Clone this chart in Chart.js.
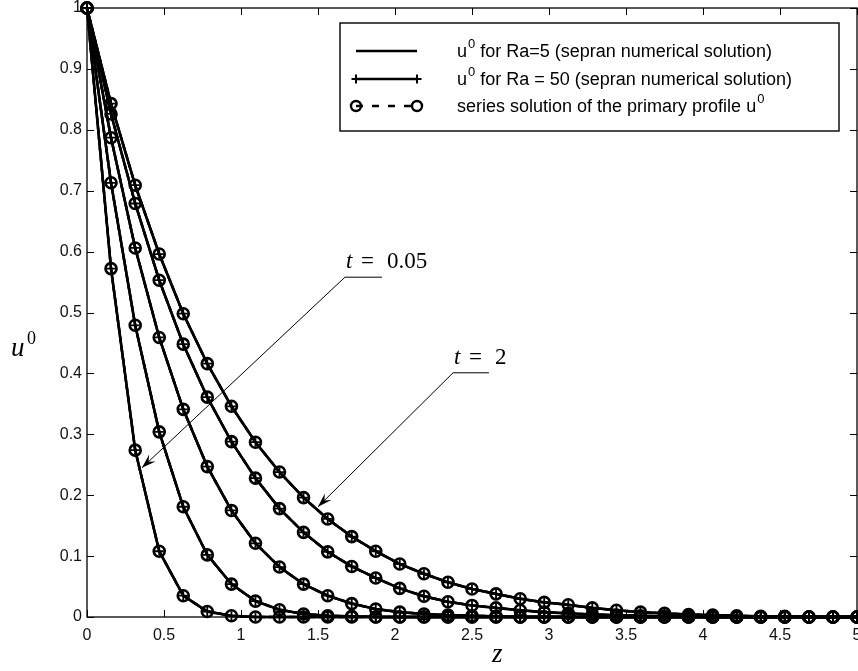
<!DOCTYPE html>
<html>
<head>
<meta charset="utf-8">
<script src="https://cdn.jsdelivr.net/npm/chart.js@4/dist/chart.umd.min.js"></script>
<style>
  body { margin: 0; background: #fff; }
  canvas { display: block; }
</style>
</head>
<body>
<canvas id="chart" width="858" height="671"></canvas>
<script>
// sample positions along z (marker positions)
const zValues = [0, 0.156, 0.313, 0.469, 0.625, 0.781, 0.938, 1.094, 1.25, 1.406, 1.563, 1.719, 1.875,
    2.031, 2.188, 2.344, 2.5, 2.656, 2.813, 2.969, 3.125, 3.281, 3.438, 3.594, 3.75, 3.906, 4.063,
    4.219, 4.375, 4.531, 4.688, 4.844, 5];

// u0 profiles, from t = 0.05 (steepest) to t = 2
const curveT005 = [1, 0.572, 0.274, 0.108, 0.035, 0.009, 0.002, 0, 0, 0, 0, 0, 0, 0, 0, 0, 0,
    0, 0, 0, 0, 0, 0, 0, 0, 0, 0, 0, 0, 0, 0, 0, 0];
const curveB = [1, 0.713, 0.479, 0.304, 0.181, 0.102, 0.054, 0.026, 0.012, 0.005, 0.002, 0.001, 0,
    0, 0, 0, 0, 0, 0, 0, 0, 0, 0, 0, 0, 0, 0, 0, 0, 0, 0, 0, 0];
const curveC = [1, 0.787, 0.606, 0.459, 0.341, 0.247, 0.175, 0.121, 0.082, 0.054, 0.035, 0.022, 0.013,
    0.008, 0.005, 0.003, 0.002, 0.001, 0, 0, 0, 0, 0, 0, 0, 0, 0, 0, 0, 0, 0, 0, 0];
const curveD = [1, 0.826, 0.679, 0.553, 0.448, 0.361, 0.288, 0.228, 0.178, 0.139, 0.107, 0.083, 0.064,
    0.047, 0.034, 0.025, 0.019, 0.015, 0.011, 0.008, 0.006, 0.004, 0.003, 0.002, 0.001, 0.001, 0,
    0, 0, 0, 0, 0, 0];
const curveT2 = [1, 0.843, 0.709, 0.596, 0.498, 0.416, 0.346, 0.287, 0.238, 0.196, 0.161, 0.132, 0.108,
    0.087, 0.071, 0.057, 0.046, 0.038, 0.030, 0.024, 0.020, 0.015, 0.011, 0.008, 0.006, 0.004, 0.003,
    0.002, 0.001, 0.001, 0, 0, 0];

const curves = [curveT005, curveB, curveC, curveD, curveT2];

const legendLabels = [
    ['u', '0', ' for Ra=5 (sepran numerical solution)'],
    ['u', '0', ' for Ra = 50 (sepran numerical solution)'],
    ['series solution of the primary profile u', '0', '']
];

const toPoints = vals => vals.map((v, i) => ({ x: zValues[i], y: v }));

const datasets = [];
curves.forEach(vals => {
    // series solution: dashed with open circles
    datasets.push({
        data: toPoints(vals), borderColor: '#000', borderWidth: 2.5, borderDash: [6, 4],
        pointStyle: 'circle', pointRadius: 5.5, pointBorderWidth: 2.6,
        pointBackgroundColor: 'rgba(0,0,0,0)', pointBorderColor: '#000', clip: false
    });
    // Ra = 5: plain solid line
    datasets.push({
        data: toPoints(vals), borderColor: '#000', borderWidth: 2.6,
        pointRadius: 0, clip: false
    });
    // Ra = 50: solid line with + markers
    datasets.push({
        data: toPoints(vals), borderColor: '#000', borderWidth: 2.4,
        pointStyle: 'cross', pointRadius: 4.5, pointBorderWidth: 1.8,
        pointBorderColor: '#000', clip: false
    });
});

const black = '#000';

const framePlugin = {
    id: 'frame',
    afterDraw(chart) {
        const { ctx, chartArea: a, scales } = chart;
        const x = scales.x, y = scales.y;
        ctx.save();
        ctx.strokeStyle = black;
        ctx.lineWidth = 1.3;
        ctx.strokeRect(a.left, a.top, a.right - a.left, a.bottom - a.top);
        ctx.lineWidth = 1;
        const len = 7;
        x.ticks.forEach(t => {
            const px = Math.round(x.getPixelForValue(t.value)) + 0.5;
            ctx.beginPath();
            ctx.moveTo(px, a.bottom); ctx.lineTo(px, a.bottom - len);
            ctx.moveTo(px, a.top); ctx.lineTo(px, a.top + len);
            ctx.stroke();
        });
        y.ticks.forEach(t => {
            const py = Math.round(y.getPixelForValue(t.value)) + 0.5;
            ctx.beginPath();
            ctx.moveTo(a.left, py); ctx.lineTo(a.left + len, py);
            ctx.moveTo(a.right, py); ctx.lineTo(a.right - len, py);
            ctx.stroke();
        });

        // axis titles
        ctx.fillStyle = black;
        ctx.textBaseline = 'alphabetic';
        ctx.font = 'italic 27px "Liberation Serif"';
        ctx.fillText('u', 11, 356);
        ctx.font = '18px "Liberation Serif"';
        ctx.fillText('0', 27, 344);
        ctx.font = 'italic 27px "Liberation Serif"';
        ctx.fillText('z', 492, 662);

        // legend box
        const bx = 340, by = 23, bw = 499, bh = 108;
        ctx.fillStyle = '#fff';
        ctx.fillRect(bx, by, bw, bh);
        ctx.lineWidth = 1.4;
        ctx.strokeRect(bx, by, bw, bh);
        const rows = [51, 79, 106];
        const s0 = 356, s1 = 417;
        ctx.lineWidth = 2.4;
        // row 1
        ctx.beginPath(); ctx.moveTo(s0, rows[0]); ctx.lineTo(s1, rows[0]); ctx.stroke();
        // row 2
        ctx.beginPath(); ctx.moveTo(s0, rows[1]); ctx.lineTo(s1, rows[1]); ctx.stroke();
        ctx.lineWidth = 2;
        [s0, s1].forEach(px => {
            ctx.beginPath();
            ctx.moveTo(px - 4.5, rows[1]); ctx.lineTo(px + 4.5, rows[1]);
            ctx.moveTo(px, rows[1] - 4.5); ctx.lineTo(px, rows[1] + 4.5);
            ctx.stroke();
        });
        // row 3
        ctx.lineWidth = 2.4;
        ctx.setLineDash([7, 9]);
        ctx.beginPath(); ctx.moveTo(s0, rows[2]); ctx.lineTo(s1, rows[2]); ctx.stroke();
        ctx.setLineDash([]);
        [s0, s1].forEach(px => {
            ctx.beginPath(); ctx.arc(px, rows[2], 5, 0, Math.PI * 2); ctx.stroke();
        });
        // legend text
        ctx.fillStyle = black;
        legendLabels.forEach((parts, i) => {
            let tx = 457;
            const base = rows[i] + 6;
            ctx.font = '18px "Liberation Sans", Arial';
            ctx.fillText(parts[0], tx, base);
            tx += ctx.measureText(parts[0]).width;
            ctx.font = '13px "Liberation Sans", Arial';
            ctx.fillText(parts[1], tx + 1, base - 9);
            tx += ctx.measureText(parts[1]).width + 1;
            ctx.font = '18px "Liberation Sans", Arial';
            ctx.fillText(parts[2], tx, base);
        });

        // annotations with leader arrows
        const drawNote = (tipZ, tipU, elbowZ, elbowU, lineEndZ, tParts) => {
            const tip = [x.getPixelForValue(tipZ), y.getPixelForValue(tipU)];
            const el = [x.getPixelForValue(elbowZ), y.getPixelForValue(elbowU)];
            const end = x.getPixelForValue(lineEndZ);
            ctx.strokeStyle = black;
            ctx.lineWidth = 1;
            ctx.beginPath();
            ctx.moveTo(end, el[1]); ctx.lineTo(el[0], el[1]); ctx.lineTo(tip[0], tip[1]);
            ctx.stroke();
            const ang = Math.atan2(tip[1] - el[1], tip[0] - el[0]);
            const L = 15, w = 0.32;
            ctx.beginPath();
            ctx.moveTo(tip[0], tip[1]);
            ctx.lineTo(tip[0] - L * Math.cos(ang - w), tip[1] - L * Math.sin(ang - w));
            ctx.lineTo(tip[0] - 0.6 * L * Math.cos(ang), tip[1] - 0.6 * L * Math.sin(ang));
            ctx.lineTo(tip[0] - L * Math.cos(ang + w), tip[1] - L * Math.sin(ang + w));
            ctx.closePath();
            ctx.fillStyle = black;
            ctx.fill();
            const baseY = el[1] - 9;
            let tx = el[0] + 1;
            ctx.font = 'italic 23px "Liberation Serif"';
            ctx.fillText('t', tx, baseY);
            ctx.font = '23px "Liberation Serif"';
            ctx.fillText('=', tx + 15, baseY);
            ctx.fillText(tParts, tx + 41, baseY);
        };
        drawNote(0.357, 0.245, 1.675, 0.558, 1.916, '0.05');
        drawNote(1.5, 0.181, 2.377, 0.401, 2.61, '2');
        ctx.restore();
    }
};

new Chart(document.getElementById('chart').getContext('2d'), {
    type: 'line',
    data: { datasets },
    options: {
        responsive: false,
        animation: false,
        layout: { autoPadding: false, padding: { top: 8, right: 1, left: 0, bottom: 0 } },
        plugins: { legend: { display: false }, tooltip: { enabled: false } },
        elements: { line: { tension: 0 } },
        scales: {
            x: {
                type: 'linear', min: 0, max: 5,
                ticks: {
                    stepSize: 0.5, padding: 9, color: '#111',
                    font: { family: '"Liberation Sans", Arial', size: 16 },
                    maxRotation: 0,
                    callback: v => String(Math.round(v * 10) / 10)
                },
                grid: { display: false, drawTicks: false },
                border: { display: false },
                afterFit: s => { s.height = 54; s.paddingLeft = 0; s.paddingRight = 0; }
            },
            y: {
                type: 'linear', min: 0, max: 1,
                ticks: {
                    stepSize: 0.1, padding: 5, color: '#111',
                    font: { family: '"Liberation Sans", Arial', size: 16 },
                    callback: v => String(Math.round(v * 10) / 10)
                },
                grid: { display: false, drawTicks: false },
                border: { display: false },
                afterFit: s => { s.width = 87; s.paddingTop = 0; s.paddingBottom = 0; }
            }
        }
    },
    plugins: [framePlugin]
});
</script>
</body>
</html>
